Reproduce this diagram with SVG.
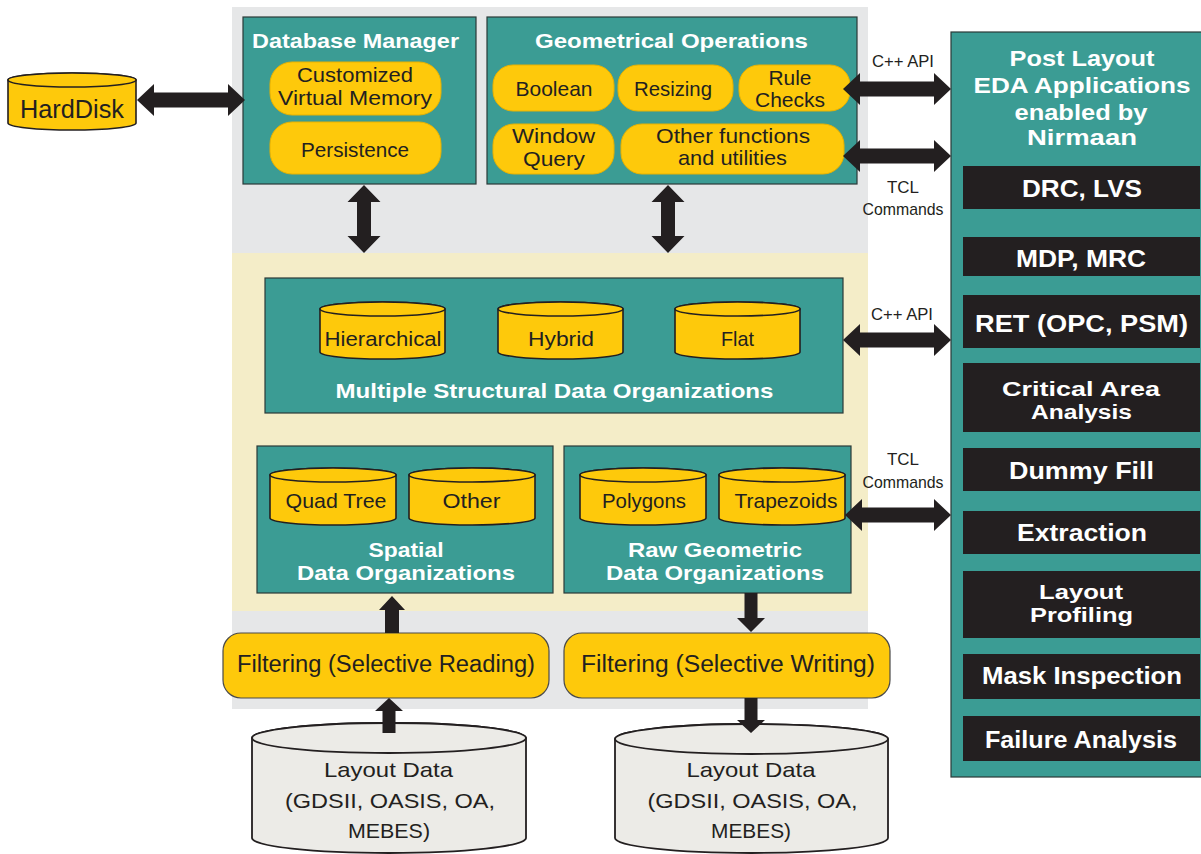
<svg xmlns="http://www.w3.org/2000/svg" width="1201" height="854" viewBox="0 0 1201 854">
<style>
.teal{fill:#3b9c94;stroke:#2b3a38;stroke-width:1.2}
.pill{fill:#fec90b;stroke:#e9b200;stroke-width:1}
.filt{fill:#fec90b;stroke:#4a4a4a;stroke-width:1.2}
.cyl{fill:#fec90b;stroke:#231f20;stroke-width:1.6}
.gcyl{fill:#ecebe7;stroke:#231f20;stroke-width:1.8}
.blk{fill:#231f20}
.arr{fill:#231f20}
text{font-family:"Liberation Sans",Arial,sans-serif;text-anchor:middle;fill:#231f20}
.lbl{font-size:21px}
.big{font-size:25px}
.flt{font-size:23px}
.sm{font-size:17px}
.tw{font-weight:bold;fill:#ffffff;font-size:21px}
.tb{font-weight:bold;fill:#ffffff;font-size:23px}
.tb2{font-weight:bold;fill:#ffffff;font-size:20px}
.tp{font-weight:bold;fill:#ffffff;font-size:22px}
</style>
<g id="background">
<rect x="232" y="7" width="636" height="702" fill="#e6e7e8"/>
<rect x="232" y="253" width="636" height="358" fill="#f4edc8"/>
</g>
<g id="harddisk">
<path class="cyl" d="M8,80 A64,7 0 0 1 136,80 V123 A64,7 0 0 1 8,123 Z"/>
<ellipse class="cyl" cx="72" cy="80" rx="64" ry="7"/>
<text class="big" x="72" y="118" textLength="104" lengthAdjust="spacingAndGlyphs">HardDisk</text>
</g>
<g id="database-manager">
<rect class="teal" x="243" y="17" width="233" height="167"/>
<text class="tw" x="355.5" y="48" textLength="207" lengthAdjust="spacingAndGlyphs">Database Manager</text>
<rect class="pill" x="270" y="62" width="171" height="53" rx="22"/>
<text class="lbl" x="355" y="82" textLength="116" lengthAdjust="spacingAndGlyphs">Customized</text>
<text class="lbl" x="355" y="105" textLength="154" lengthAdjust="spacingAndGlyphs">Virtual Memory</text>
<rect class="pill" x="270" y="122" width="171" height="52" rx="22"/>
<text class="lbl" x="355" y="157" textLength="108" lengthAdjust="spacingAndGlyphs">Persistence</text>
</g>
<g id="geometrical-operations">
<rect class="teal" x="487" y="17" width="370" height="167"/>
<text class="tw" x="671.5" y="48" textLength="273" lengthAdjust="spacingAndGlyphs">Geometrical Operations</text>
<rect class="pill" x="493" y="65" width="121" height="46" rx="20"/>
<text class="lbl" x="554" y="96" textLength="77" lengthAdjust="spacingAndGlyphs">Boolean</text>
<rect class="pill" x="618" y="65" width="115" height="46" rx="20"/>
<text class="lbl" x="673" y="96" textLength="78" lengthAdjust="spacingAndGlyphs">Resizing</text>
<rect class="pill" x="739" y="65" width="111" height="46" rx="20"/>
<text class="lbl" x="790" y="85" textLength="43" lengthAdjust="spacingAndGlyphs">Rule</text>
<text class="lbl" x="790" y="107" textLength="70" lengthAdjust="spacingAndGlyphs">Checks</text>
<rect class="pill" x="493" y="124" width="121" height="50" rx="21"/>
<text class="lbl" x="553.5" y="143" textLength="83" lengthAdjust="spacingAndGlyphs">Window</text>
<text class="lbl" x="554" y="166" textLength="62" lengthAdjust="spacingAndGlyphs">Query</text>
<rect class="pill" x="621" y="124" width="223" height="50" rx="21"/>
<text class="lbl" x="733" y="143" textLength="154" lengthAdjust="spacingAndGlyphs">Other functions</text>
<text class="lbl" x="732.5" y="165" textLength="109" lengthAdjust="spacingAndGlyphs">and utilities</text>
</g>
<g id="structural-data">
<rect class="teal" x="265" y="278" width="578" height="135"/>
<path class="cyl" d="M320,309 A62.5,7 0 0 1 445,309 V352 A62.5,7 0 0 1 320,352 Z"/>
<ellipse class="cyl" cx="382.5" cy="309" rx="62.5" ry="7"/>
<text class="lbl" x="383" y="346" textLength="117" lengthAdjust="spacingAndGlyphs">Hierarchical</text>
<path class="cyl" d="M498,309 A62.5,7 0 0 1 623,309 V352 A62.5,7 0 0 1 498,352 Z"/>
<ellipse class="cyl" cx="560.5" cy="309" rx="62.5" ry="7"/>
<text class="lbl" x="561" y="346" textLength="66" lengthAdjust="spacingAndGlyphs">Hybrid</text>
<path class="cyl" d="M675,309 A62.5,7 0 0 1 800,309 V352 A62.5,7 0 0 1 675,352 Z"/>
<ellipse class="cyl" cx="737.5" cy="309" rx="62.5" ry="7"/>
<text class="lbl" x="737.5" y="346" textLength="33" lengthAdjust="spacingAndGlyphs">Flat</text>
<text class="tw" x="554.5" y="398" textLength="438" lengthAdjust="spacingAndGlyphs">Multiple Structural Data Organizations</text>
</g>
<g id="spatial-data">
<rect class="teal" x="257" y="446" width="296" height="147"/>
<path class="cyl" d="M270,475 A63,7 0 0 1 396,475 V518 A63,7 0 0 1 270,518 Z"/>
<ellipse class="cyl" cx="333" cy="475" rx="63" ry="7"/>
<text class="lbl" x="336" y="508" textLength="101" lengthAdjust="spacingAndGlyphs">Quad Tree</text>
<path class="cyl" d="M409,475 A63,7 0 0 1 535,475 V518 A63,7 0 0 1 409,518 Z"/>
<ellipse class="cyl" cx="472" cy="475" rx="63" ry="7"/>
<text class="lbl" x="471.5" y="508" textLength="58" lengthAdjust="spacingAndGlyphs">Other</text>
<text class="tw" x="406" y="557" textLength="75" lengthAdjust="spacingAndGlyphs">Spatial</text>
<text class="tw" x="406" y="580" textLength="218" lengthAdjust="spacingAndGlyphs">Data Organizations</text>
</g>
<g id="raw-geometric-data">
<rect class="teal" x="564" y="446" width="287" height="147"/>
<path class="cyl" d="M580,475 A63,7 0 0 1 706,475 V518 A63,7 0 0 1 580,518 Z"/>
<ellipse class="cyl" cx="643" cy="475" rx="63" ry="7"/>
<text class="lbl" x="644" y="508" textLength="84" lengthAdjust="spacingAndGlyphs">Polygons</text>
<path class="cyl" d="M719,475 A63,7 0 0 1 845,475 V518 A63,7 0 0 1 719,518 Z"/>
<ellipse class="cyl" cx="782" cy="475" rx="63" ry="7"/>
<text class="lbl" x="786" y="508" textLength="103" lengthAdjust="spacingAndGlyphs">Trapezoids</text>
<text class="tw" x="715" y="557" textLength="174" lengthAdjust="spacingAndGlyphs">Raw Geometric</text>
<text class="tw" x="715" y="580" textLength="218" lengthAdjust="spacingAndGlyphs">Data Organizations</text>
</g>
<g id="filter-reading">
<rect class="filt" x="223" y="633" width="326" height="65" rx="18"/>
<text class="flt" x="386" y="672" textLength="298" lengthAdjust="spacingAndGlyphs">Filtering (Selective Reading)</text>
</g>
<g id="filter-writing">
<rect class="filt" x="564" y="633" width="326" height="65" rx="18"/>
<text class="flt" x="728" y="672" textLength="294" lengthAdjust="spacingAndGlyphs">Filtering (Selective Writing)</text>
</g>
<g id="layout-data-in">
<path class="gcyl" d="M252,738 A137,15 0 0 1 526,738 V838 A137,15 0 0 1 252,838 Z"/>
<ellipse class="gcyl" cx="389" cy="738" rx="137" ry="15"/>
<text class="lbl" x="388.5" y="777" textLength="129" lengthAdjust="spacingAndGlyphs">Layout Data</text>
<text class="lbl" x="390" y="808" textLength="210" lengthAdjust="spacingAndGlyphs">(GDSII, OASIS, OA,</text>
<text class="lbl" x="389" y="838" textLength="82" lengthAdjust="spacingAndGlyphs">MEBES)</text>
</g>
<g id="layout-data-out">
<path class="gcyl" d="M615,739 A136.5,15 0 0 1 888,739 V838 A136.5,15 0 0 1 615,838 Z"/>
<ellipse class="gcyl" cx="751.5" cy="739" rx="136.5" ry="15"/>
<text class="lbl" x="751" y="777" textLength="129" lengthAdjust="spacingAndGlyphs">Layout Data</text>
<text class="lbl" x="752.5" y="808" textLength="210" lengthAdjust="spacingAndGlyphs">(GDSII, OASIS, OA,</text>
<text class="lbl" x="751" y="838" textLength="80" lengthAdjust="spacingAndGlyphs">MEBES)</text>
</g>
<g id="post-layout-apps">
<rect class="teal" x="951" y="32" width="262" height="745"/>
<text class="tp" x="1082" y="66" textLength="145" lengthAdjust="spacingAndGlyphs">Post Layout</text>
<text class="tp" x="1082" y="93" textLength="217" lengthAdjust="spacingAndGlyphs">EDA Applications</text>
<text class="tp" x="1081" y="120" textLength="133" lengthAdjust="spacingAndGlyphs">enabled by</text>
<text class="tp" x="1082" y="145" textLength="110" lengthAdjust="spacingAndGlyphs">Nirmaan</text>
<rect class="blk" x="963" y="166" width="237" height="43"/>
<text class="tb" x="1082" y="197" textLength="120" lengthAdjust="spacingAndGlyphs">DRC, LVS</text>
<rect class="blk" x="963" y="237" width="237" height="39"/>
<text class="tb" x="1081" y="267" textLength="130" lengthAdjust="spacingAndGlyphs">MDP, MRC</text>
<rect class="blk" x="963" y="295" width="237" height="53"/>
<text class="tb" x="1081.5" y="332" textLength="213" lengthAdjust="spacingAndGlyphs">RET (OPC, PSM)</text>
<rect class="blk" x="963" y="363" width="237" height="69"/>
<text class="tb2" x="1081" y="396" textLength="158" lengthAdjust="spacingAndGlyphs">Critical Area</text>
<text class="tb2" x="1081.5" y="419" textLength="101" lengthAdjust="spacingAndGlyphs">Analysis</text>
<rect class="blk" x="963" y="448" width="237" height="43"/>
<text class="tb" x="1081.5" y="479" textLength="145" lengthAdjust="spacingAndGlyphs">Dummy Fill</text>
<rect class="blk" x="963" y="511" width="237" height="43"/>
<text class="tb" x="1082" y="541" textLength="130" lengthAdjust="spacingAndGlyphs">Extraction</text>
<rect class="blk" x="963" y="571" width="237" height="67"/>
<text class="tb2" x="1081" y="599" textLength="84" lengthAdjust="spacingAndGlyphs">Layout</text>
<text class="tb2" x="1081.5" y="622" textLength="103" lengthAdjust="spacingAndGlyphs">Profiling</text>
<rect class="blk" x="963" y="654" width="237" height="45"/>
<text class="tb" x="1082" y="684" textLength="200" lengthAdjust="spacingAndGlyphs">Mask Inspection</text>
<rect class="blk" x="963" y="716" width="237" height="45"/>
<text class="tb" x="1081" y="748" textLength="192" lengthAdjust="spacingAndGlyphs">Failure Analysis</text>
</g>
<g id="connectors">
<polygon class="arr" points="137,100 154,84 154,92.5 228,92.5 228,84 245,100 228,116 228,107.5 154,107.5 154,116"/>
<polygon class="arr" points="364,185 380.5,202 371,202 371,236 380.5,236 364,253 347.5,236 357,236 357,202 347.5,202"/>
<polygon class="arr" points="668,185 684.5,202 675,202 675,236 684.5,236 668,253 651.5,236 661,236 661,202 651.5,202"/>
<polygon class="arr" points="843,89 860,73 860,81.5 934,81.5 934,73 951,89 934,105 934,96.5 860,96.5 860,105"/>
<polygon class="arr" points="843,156 860,140 860,148.5 934,148.5 934,140 951,156 934,172 934,163.5 860,163.5 860,172"/>
<polygon class="arr" points="843,340 860,324 860,332.5 934,332.5 934,324 951,340 934,356 934,347.5 860,347.5 860,356"/>
<polygon class="arr" points="845,515 862,499 862,507.5 934,507.5 934,499 951,515 934,531 934,522.5 862,522.5 862,531"/>
<polygon class="arr" points="392,596 405,610 399,610 399,633 385,633 385,610 379,610"/>
<polygon class="arr" points="744.5,593 757.5,593 757.5,618 765,618 751,632 737,618 744.5,618"/>
<polygon class="arr" points="389,698 403,711 395.5,711 395.5,733 382.5,733 382.5,711 375,711"/>
<polygon class="arr" points="744.5,698 757.5,698 757.5,720 765,720 751,733 737,720 744.5,720"/>
<text class="sm" x="903" y="67" textLength="62" lengthAdjust="spacingAndGlyphs">C++ API</text>
<text class="sm" x="903" y="193" textLength="32" lengthAdjust="spacingAndGlyphs">TCL</text>
<text class="sm" x="903" y="215" textLength="81" lengthAdjust="spacingAndGlyphs">Commands</text>
<text class="sm" x="902" y="320" textLength="62" lengthAdjust="spacingAndGlyphs">C++ API</text>
<text class="sm" x="903" y="465" textLength="32" lengthAdjust="spacingAndGlyphs">TCL</text>
<text class="sm" x="903" y="488" textLength="81" lengthAdjust="spacingAndGlyphs">Commands</text>
</g>
</svg>
